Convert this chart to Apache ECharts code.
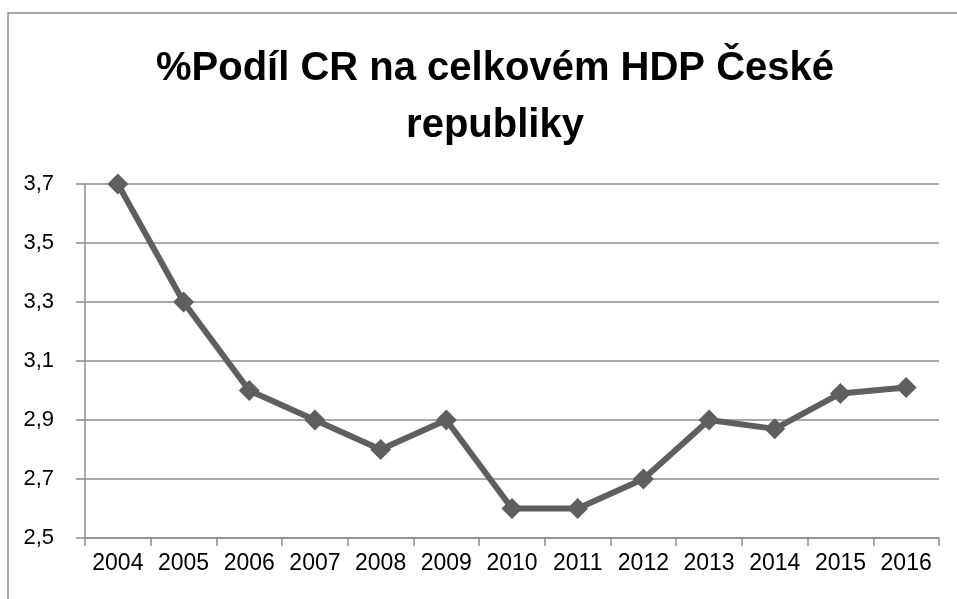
<!DOCTYPE html>
<html><head><meta charset="utf-8">
<script src="https://cdn.jsdelivr.net/npm/echarts@6/dist/echarts.min.js"></script>
<style>html,body{margin:0;padding:0;background:#fff}#c{width:957px;height:599px}</style>
</head><body><div id="c"></div>
<script>
const titleText = "%Podíl CR na celkovém HDP České\nrepubliky";
const years = ["2004","2005","2006","2007","2008","2009","2010","2011","2012","2013","2014","2015","2016"];
const shares = [3.7, 3.3, 3.0, 2.9, 2.8, 2.9, 2.6, 2.6, 2.7, 2.9, 2.87, 2.99, 3.01];
const yMin = 2.5, yMax = 3.7, yStep = 0.2;

const FONT = "'Liberation Sans', Arial, sans-serif";
const chart = echarts.init(document.getElementById('c'), null, {renderer: 'canvas'});
chart.setOption({
  animation: false,
  backgroundColor: '#fff',
  graphic: [{
    type: 'rect', shape: {x: 8, y: 13, width: 1000, height: 700},
    style: {fill: 'none', stroke: '#8c8c8c', lineWidth: 1.5}, silent: true, z: -1
  }],
  title: {
    text: titleText, left: 490, top: 35, textAlign: 'center',
    textStyle: {fontFamily: FONT, fontWeight: 'bold', fontSize: 40, lineHeight: 57, color: '#000'}
  },
  grid: {left: 85, right: 18, top: 184, bottom: 61, containLabel: false},
  xAxis: {
    type: 'category', data: years, boundaryGap: true,
    axisLine: {lineStyle: {color: '#8c8c8c', width: 1.5}},
    axisTick: {show: true, length: 8, lineStyle: {color: '#8c8c8c', width: 1.5}},
    axisLabel: {fontFamily: FONT, fontSize: 23, color: '#000', margin: 14, interval: 0}
  },
  yAxis: {
    type: 'value', min: yMin, max: yMax, interval: yStep,
    axisLine: {show: true, lineStyle: {color: '#8c8c8c', width: 1.5}},
    axisTick: {show: true, length: 9, inside: false, lineStyle: {color: '#8c8c8c', width: 1.5}},
    splitLine: {lineStyle: {color: '#8c8c8c', width: 1.5}},
    axisLabel: {fontFamily: FONT, fontSize: 22, color: '#000', margin: 31,
      formatter: v => v.toFixed(1).replace('.', ',')}
  },
  series: [{
    type: 'line', data: shares,
    lineStyle: {color: '#5f5f5f', width: 6},
    itemStyle: {color: '#5f5f5f'},
    symbol: 'diamond', symbolSize: 21, showSymbol: true
  }]
});
</script></body></html>
